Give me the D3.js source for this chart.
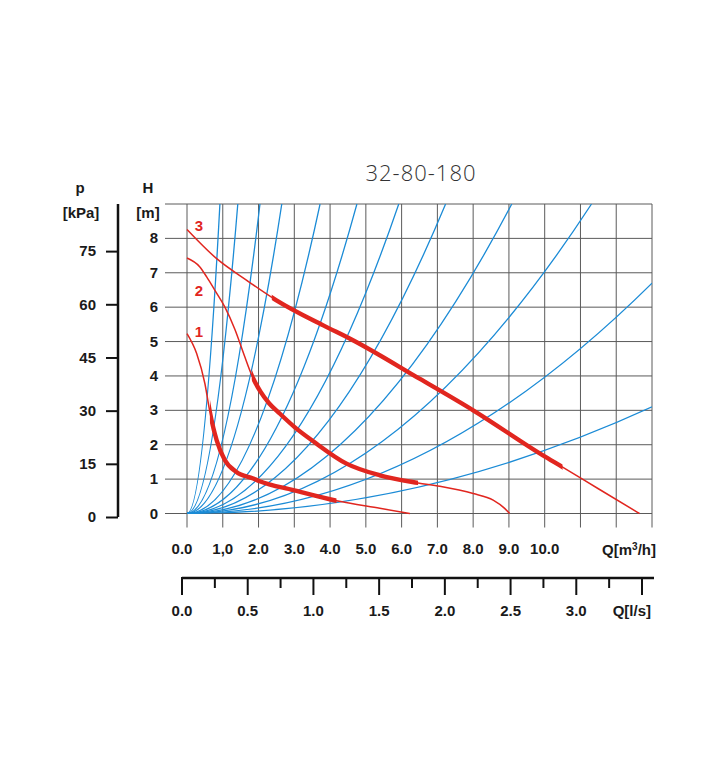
<!DOCTYPE html>
<html>
<head>
<meta charset="utf-8">
<script src="https://cdn.jsdelivr.net/npm/d3@7"></script>
<style>
  body { margin: 0; background: #fff; }
  svg text { font-family: "Liberation Sans", Arial, sans-serif; font-weight: bold; fill: #1a1a1a; }
</style>
</head>
<body>
<div id="chart"></div>
<script>
// axis ticks
const flowTicks = [0, 1, 2, 3, 4, 5, 6, 7, 8, 9, 10, 11, 12, 13];
const flowLabels = ["0.0", "1,0", "2.0", "3.0", "4.0", "5.0", "6.0", "7.0", "8.0", "9.0", "10.0"];
const headTicks = [0, 1, 2, 3, 4, 5, 6, 7, 8, 9];
const kpaTicks = [0, 15, 30, 45, 60, 75];
const lsMajor = [0, 0.5, 1.0, 1.5, 2.0, 2.5, 3.0, 3.5];
const lsMinor = [0.25, 0.75, 1.25, 1.75, 2.25, 2.75, 3.25];
const lsLabels = ["0.0", "0.5", "1.0", "1.5", "2.0", "2.5", "3.0"];

// system curves (parabolas from origin), point where each leaves the grid [Q m3/h, H m]
const systemExits = [[0.92, 9], [1.42, 9], [2.04, 9], [2.65, 9], [3.72, 9], [4.75, 9],
  [5.92, 9], [7.23, 9], [9.08, 9], [11.31, 9], [13, 6.7], [13, 3.1]];

// pump curves, speeds 1..3 [Q m3/h, H m]
const speed1 = [[0, 5.23], [0.27, 4.65], [0.5, 3.78], [0.64, 2.95], [0.83, 2.13], [1.06, 1.55],
  [1.38, 1.21], [1.85, 1.02], [2.03, 0.94], [2.97, 0.68], [4.18, 0.37], [5.39, 0.15], [6.23, 0]];
const speed2 = [[0, 7.43], [0.36, 7.17], [0.55, 6.88], [0.78, 6.49], [1.06, 6.0], [1.34, 5.35],
  [1.6, 4.6], [1.81, 4.02], [2.05, 3.55], [2.3, 3.2], [2.6, 2.9], [3.0, 2.52], [3.53, 2.1],
  [4.46, 1.45], [5.39, 1.11], [6.46, 0.89], [7.07, 0.79], [8.0, 0.58], [8.56, 0.39],
  [8.88, 0.15], [9.02, 0]];
const speed3 = [[0, 8.26], [0.83, 7.41], [1.67, 6.78], [2.5, 6.2], [3.81, 5.47], [4.6, 5.06],
  [6.5, 3.92], [8.0, 3.0], [9.95, 1.69], [10.5, 1.35], [11.5, 0.72], [12.65, 0]];
const speedNames = ["1", "2", "3"];
const speedLabelH = [5.28, 6.46, 8.35];
const thickRanges = [[0.64, 4.18], [1.81, 6.46], [2.37, 10.5]];

const width = 720, height = 780;
const red = "#e1261f", blue = "#1b8bd6", gridColor = "#5a5a5a";
const fs = "15px";

const svg = d3.select("#chart").append("svg")
  .attr("width", width).attr("height", height);

const x = d3.scaleLinear().domain([0, 13]).range([187, 652]);
const y = d3.scaleLinear().domain([0, 9]).range([513.5, 204]);
const p = d3.scaleLinear().domain([0, 9 * 9.81]).range([517, 204]);
const ls = d3.scaleLinear().domain([0, 3.5]).range([182, 642]);

// title
svg.append("text")
  .attr("x", 421).attr("y", 181)
  .attr("text-anchor", "middle")
  .style("font-family", "'Open Sans', sans-serif")
  .style("font-weight", 300)
  .style("font-size", "22px")
  .style("letter-spacing", "1px")
  .style("fill", "#333")
  .text("32-80-180");

// grid
const grid = svg.append("g");
grid.selectAll(".hline").data(headTicks).join("line")
  .attr("x1", x(0) - 22).attr("x2", x(13))
  .attr("y1", d => y(d)).attr("y2", d => y(d))
  .attr("stroke", gridColor).attr("stroke-width", 1);
grid.selectAll(".vline").data(flowTicks).join("line")
  .attr("x1", d => x(d)).attr("x2", d => x(d))
  .attr("y1", y(9)).attr("y2", y(0) + 14)
  .attr("stroke", gridColor).attr("stroke-width", 1);

// H labels
svg.append("text").attr("x", 148).attr("y", 193).attr("text-anchor", "middle")
  .style("font-size", fs).text("H");
svg.append("text").attr("x", 148).attr("y", 218).attr("text-anchor", "middle")
  .style("font-size", fs).text("[m]");
svg.selectAll(".hlab").data(headTicks.slice(0, 9)).join("text")
  .attr("x", 158).attr("y", d => y(d) + 5)
  .attr("text-anchor", "end")
  .style("font-size", fs)
  .text(d => d);

// p axis
svg.append("text").attr("x", 80).attr("y", 193).attr("text-anchor", "middle")
  .style("font-size", fs).text("p");
svg.append("text").attr("x", 81).attr("y", 218).attr("text-anchor", "middle")
  .style("font-size", fs).text("[kPa]");
const pAxis = d3.axisLeft(p).tickValues(kpaTicks).tickSize(12).tickPadding(10)
  .tickFormat(d => d);
const gp = svg.append("g").attr("transform", "translate(118,0)").call(pAxis);
gp.select(".domain").attr("d", `M0,${p.range()[1]}V${p(0)}`)
  .attr("stroke", "#111").attr("stroke-width", 2.5);
gp.selectAll(".tick line").attr("stroke", "#111").attr("stroke-width", 2);
gp.selectAll(".tick text").style("font-size", fs)
  .style("font-family", "'Liberation Sans', Arial, sans-serif")
  .style("font-weight", "bold").attr("fill", "#1a1a1a");

// system curves
const clip = svg.append("clipPath").attr("id", "plotclip");
clip.append("rect").attr("x", x(0)).attr("y", y(9))
  .attr("width", x(13) - x(0)).attr("height", y(0) - y(9));
const sys = svg.append("g").attr("clip-path", "url(#plotclip)");
sys.selectAll("path").data(systemExits).join("path")
  .attr("d", d => {
    const path = d3.path();
    path.moveTo(x(0), y(0));
    path.quadraticCurveTo(x(d[0] / 2), y(0), x(d[0]), y(d[1]));
    return path.toString();
  })
  .attr("fill", "none").attr("stroke", blue).attr("stroke-width", 1.3);

// pump curves
const pumpLine = d3.line().x(d => x(d[0])).y(d => y(d[1])).curve(d3.curveMonotoneX);
const speeds = [speed1, speed2, speed3];
speeds.forEach((s, i) => {
  svg.append("path").datum(s)
    .attr("d", pumpLine)
    .attr("fill", "none").attr("stroke", red).attr("stroke-width", 1.5);
  svg.append("clipPath").attr("id", "thick" + i)
    .append("rect")
    .attr("x", x(thickRanges[i][0])).attr("y", 0)
    .attr("width", x(thickRanges[i][1]) - x(thickRanges[i][0])).attr("height", height);
  svg.append("path").datum(s)
    .attr("d", pumpLine)
    .attr("clip-path", `url(#thick${i})`)
    .attr("fill", "none").attr("stroke", red).attr("stroke-width", 4.4);
  svg.append("text")
    .attr("x", x(0) + 12).attr("y", y(speedLabelH[i]) + 5)
    .attr("text-anchor", "middle")
    .style("font-size", fs).style("fill", red)
    .text(speedNames[i]);
});

// Q m3/h labels
svg.selectAll(".qlab").data(flowLabels).join("text")
  .attr("x", (d, i) => x(i) - (i === 0 ? 5 : 0))
  .attr("y", 554)
  .attr("text-anchor", "middle")
  .style("font-size", fs)
  .text(d => d);
const qm = svg.append("text").attr("x", 656).attr("y", 555)
  .attr("text-anchor", "end").style("font-size", fs);
qm.append("tspan").text("Q[m");
qm.append("tspan").attr("dy", -5).style("font-size", "10px").text("3");
qm.append("tspan").attr("dy", 5).text("/h]");

// Q l/s axis
const lsg = svg.append("g");
lsg.append("line").attr("x1", ls(0)).attr("x2", 654).attr("y1", 578).attr("y2", 578)
  .attr("stroke", "#111").attr("stroke-width", 2.5);
lsg.selectAll(".maj").data(lsMajor).join("line")
  .attr("x1", d => ls(d)).attr("x2", d => ls(d))
  .attr("y1", 577).attr("y2", 595)
  .attr("stroke", "#111").attr("stroke-width", 2);
lsg.selectAll(".min").data(lsMinor).join("line")
  .attr("x1", d => ls(d)).attr("x2", d => ls(d))
  .attr("y1", 577).attr("y2", 588)
  .attr("stroke", "#111").attr("stroke-width", 2);
lsg.selectAll("text").data(lsLabels).join("text")
  .attr("x", (d, i) => ls(i * 0.5)).attr("y", 616)
  .attr("text-anchor", "middle")
  .style("font-size", fs)
  .text(d => d);
svg.append("text").attr("x", 651).attr("y", 616)
  .attr("text-anchor", "end").style("font-size", fs).text("Q[l/s]");
</script>
</body>
</html>
